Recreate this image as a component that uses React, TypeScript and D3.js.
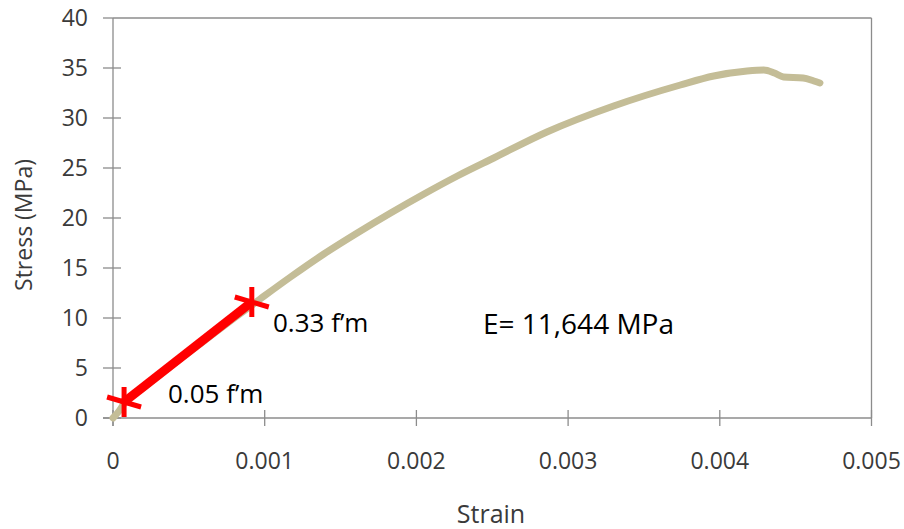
import React from "react";
import * as d3 from "d3";

const strain = [0, 0.00004, 0.00008, 0.0002, 0.0004, 0.0006, 0.0008, 0.00097, 0.00117, 0.00139, 0.00161, 0.00183, 0.00205, 0.00227, 0.00251, 0.00286, 0.0033, 0.00374, 0.00396, 0.00418, 0.00429, 0.00436, 0.00442, 0.00455, 0.00462, 0.00466];
const stress = [0, 0.7, 1.6, 3.0, 5.4, 7.7, 10.0, 11.9, 14.1, 16.4, 18.5, 20.5, 22.4, 24.2, 26.0, 28.6, 31.2, 33.3, 34.2, 34.7, 34.8, 34.5, 34.1, 34.0, 33.7, 33.5];

const modStrain = [0.000073, 0.000915];
const modStress = [1.6, 11.6];
const modLabels = ["0.05 f\u2019m", "0.33 f\u2019m"];

const xTicks = [0, 0.001, 0.002, 0.003, 0.004, 0.005];
const yTicks = [0, 5, 10, 15, 20, 25, 30, 35, 40];
const eLabel = "E= 11,644 MPa";

const W = 904, H = 529;
const FONT = "'Open Sans', sans-serif";

export default function App() {
  const x = d3.scaleLinear().domain([0, 0.005]).range([113, 871.5]);
  const y = d3.scaleLinear().domain([0, 40]).range([418, 18]);
  const pts = strain.map((s, i) => [s, stress[i]] as [number, number]);
  const line = d3.line<[number, number]>().x(d => x(d[0])).y(d => y(d[1])).curve(d3.curveMonotoneX);
  const axisColor = "#8c8c8c";
  const modPts = modStrain.map((s, i) => [s, modStress[i]] as [number, number]);
  const redLine = d3.line<[number, number]>().x(d => x(d[0])).y(d => y(d[1]));

  const star = (cx: number, cy: number, key: number) => (
    <g key={key} stroke="#ff0000" strokeWidth={5} strokeLinecap="butt">
      <line x1={cx} y1={cy - 15} x2={cx} y2={cy + 15} />
      <line x1={cx - 17} y1={cy - 5} x2={cx + 17} y2={cy + 5} />
    </g>
  );

  return (
    <svg width={W} height={H} style={{ position: "absolute", left: 0, top: 0, background: "#fff" }} fontFamily={FONT}>
      <line x1={x(0)} x2={x(0.005)} y1={y(40)} y2={y(40)} stroke={axisColor} strokeWidth={1.3} />
      <line x1={x(0.005)} x2={x(0.005)} y1={y(40)} y2={y(0)} stroke={axisColor} strokeWidth={1.3} />
      <line x1={x(0)} x2={x(0)} y1={y(40)} y2={y(0) + 8} stroke={axisColor} strokeWidth={1.3} />
      <line x1={x(0) - 10} x2={x(0.005)} y1={y(0)} y2={y(0)} stroke={axisColor} strokeWidth={1.3} />
      {yTicks.map(t => (
        <g key={"y" + t}>
          <line x1={x(0) - 10} x2={t === 40 ? x(0) : x(0) + 8} y1={y(t)} y2={y(t)} stroke={axisColor} strokeWidth={1.3} />
          <text x={88} y={y(t) + 7.5} textAnchor="end" fontSize={23} fill="#3a3a3a">{t}</text>
        </g>
      ))}
      {xTicks.map(t => (
        <g key={"x" + t}>
          <line x1={x(t)} x2={x(t)} y1={y(0) - 8} y2={y(0) + 8} stroke={axisColor} strokeWidth={1.3} />
          <text x={x(t)} y={469} textAnchor="middle" fontSize={23} fill="#3a3a3a">{t === 0 ? "0" : d3.format(".3f")(t)}</text>
        </g>
      ))}
      <text x={491} y={523} textAnchor="middle" fontSize={25} fill="#3a3a3a">Strain</text>
      <text transform={`translate(32,225) rotate(-90)`} textAnchor="middle" fontSize={23} fill="#3a3a3a">Stress (MPa)</text>
      <path d={line(pts) || ""} fill="none" stroke="#c4bd97" strokeWidth={7} strokeLinecap="round" strokeLinejoin="round" />
      <path d={redLine(modPts) || ""} fill="none" stroke="#ff0000" strokeWidth={9} />
      {modPts.map((p, i) => star(x(p[0]), y(p[1]), i))}
      <text x={168} y={403} fontSize={26} fill="#000">{modLabels[0]}</text>
      <text x={273} y={332} fontSize={26} fill="#000">{modLabels[1]}</text>
      <text x={483} y={334} fontSize={28} fill="#000">{eLabel}</text>
    </svg>
  );
}
